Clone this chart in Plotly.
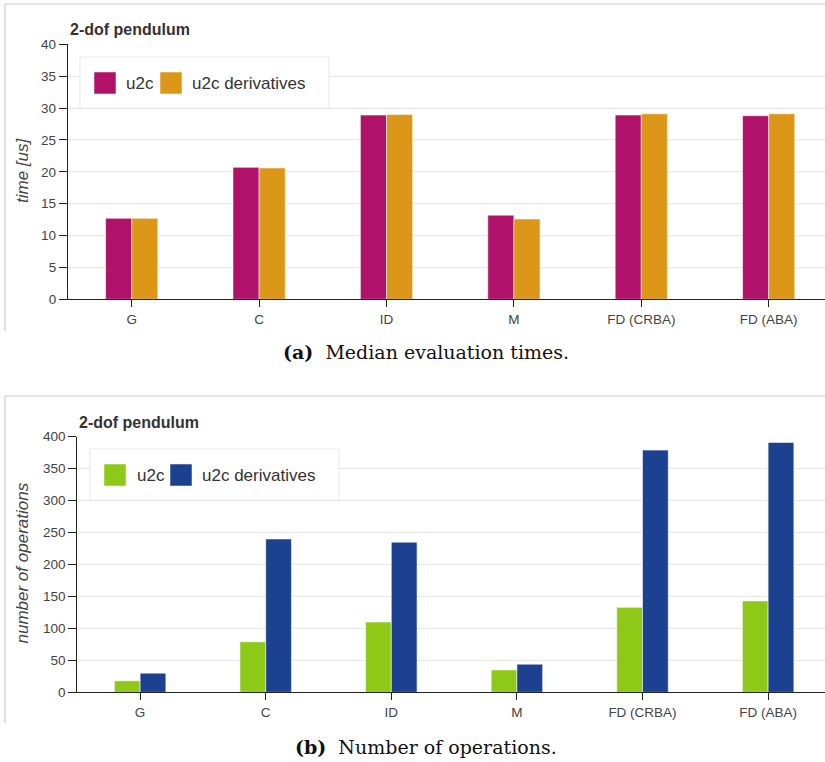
import plotly.graph_objects as go

# Benchmark results for the 2-dof pendulum
categories = ["G", "C", "ID", "M", "FD (CRBA)", "FD (ABA)"]
series_names = ["u2c", "u2c derivatives"]

times_u2c = [12.7, 20.7, 28.9, 13.2, 28.9, 28.8]
times_deriv = [12.7, 20.6, 29.0, 12.6, 29.1, 29.1]

ops_u2c = [18, 79, 110, 35, 133, 143]
ops_deriv = [30, 240, 235, 44, 379, 391]

time_ticks = [0, 5, 10, 15, 20, 25, 30, 35, 40]
ops_ticks = [0, 50, 100, 150, 200, 250, 300, 350, 400]

W, H = 825, 762
C_MAG, C_ORA = "#B01269", "#DC9718"
C_GRN, C_BLU = "#8DC916", "#1D4191"
TXT = "#444444"
SANS = "Liberation Sans, Arial, sans-serif"
SERIF = "DejaVu Serif, serif"


def xp(px):
    return px / W


def yp(py):
    return 1 - py / H


fig = go.Figure()
edge = dict(color="rgba(255,255,255,0.55)", width=1)
fig.add_bar(x=categories, y=times_u2c, name=series_names[0], marker=dict(color=C_MAG, line=edge),
            xaxis="x", yaxis="y")
fig.add_bar(x=categories, y=times_deriv, name=series_names[1], marker=dict(color=C_ORA, line=edge),
            xaxis="x", yaxis="y")
fig.add_bar(x=categories, y=ops_u2c, name=series_names[0], marker=dict(color=C_GRN, line=edge),
            xaxis="x2", yaxis="y2")
fig.add_bar(x=categories, y=ops_deriv, name=series_names[1], marker=dict(color=C_BLU, line=edge),
            xaxis="x2", yaxis="y2")

xcommon = dict(type="category", showline=True, linecolor="#222222", linewidth=1.3,
               ticks="outside", ticklen=7, tickcolor="#222222", tickwidth=1.3,
               showgrid=False, tickfont=dict(family=SANS, size=13.5, color=TXT),
               fixedrange=True, automargin=False)
ycommon = dict(showline=True, linecolor="#222222", linewidth=1.3,
               ticks="outside", ticklen=8, tickcolor="#222222", tickwidth=1.3,
               showgrid=True, gridcolor="#e6e6e6", gridwidth=1.2, zeroline=False,
               tickfont=dict(family=SANS, size=13.5, color=TXT), fixedrange=True,
               automargin=False)

# top panel: median evaluation times
top_left, top_y0, top_y1 = 68, 299.3, 44.3
# bottom panel: number of operations
bot_left, bot_y0, bot_y1 = 77.3, 692.3, 436.7

fig.update_layout(
    width=W, height=H,
    margin=dict(l=0, r=0, t=0, b=0, pad=0, autoexpand=False),
    paper_bgcolor="white", plot_bgcolor="white",
    showlegend=False,
    barmode="group", bargap=0.59, bargroupgap=0,
    xaxis=dict(xcommon, domain=[xp(top_left), 1], anchor="y", range=[-0.5, 5.442]),
    yaxis=dict(ycommon, domain=[yp(top_y0), yp(top_y1)], anchor="x", range=[0, 40],
               tickvals=time_ticks),
    xaxis2=dict(xcommon, domain=[xp(bot_left), 1], anchor="y2", range=[-0.5, 5.453]),
    yaxis2=dict(ycommon, domain=[yp(bot_y0), yp(bot_y1)], anchor="x2", range=[0, 400],
                tickvals=ops_ticks),
)

shapes = []
annotations = []

# panel frames (left and top edges)
for (xl, ytop, ybot) in [(5, 4, 331), (5, 396, 723)]:
    shapes.append(dict(type="path", xref="paper", yref="paper",
                       path=f"M {xp(xl)},{yp(ybot)} L {xp(xl)},{yp(ytop)} L {xp(W + 5)},{yp(ytop)}",
                       line=dict(color="#cccccc", width=1.2)))

# panel titles
for (xl, yc) in [(68, 29), (77, 422)]:
    annotations.append(dict(text="<b>2-dof pendulum</b>", xref="paper", yref="paper",
                            x=xp(xl), y=yp(yc), xanchor="left", yanchor="middle",
                            showarrow=False, font=dict(family=SANS, size=16, color="#333333")))

# y axis titles
for (txt, yc) in [("time [us]", 170), ("number of operations", 563.5)]:
    annotations.append(dict(text=f"<i>{txt}</i>", xref="paper", yref="paper",
                            x=xp(22), y=yp(yc), xanchor="center", yanchor="middle",
                            textangle=-90, showarrow=False,
                            font=dict(family=SANS, size=17, color=TXT)))

# legends
legend_specs = [
    (80, 57, 329, 108, [(94, C_MAG, 124), (160, C_ORA, 190)], 83),
    (90, 449, 339, 500, [(104, C_GRN, 135), (170, C_BLU, 200)], 475),
]
for (x0, y0, x1, y1, items, yc) in legend_specs:
    shapes.append(dict(type="rect", xref="paper", yref="paper",
                       x0=xp(x0), x1=xp(x1), y0=yp(y1), y1=yp(y0),
                       fillcolor="white", line=dict(color="#ececec", width=1.2), layer="above"))
    for (sx, col, tx), name in zip(items, series_names):
        shapes.append(dict(type="rect", xref="paper", yref="paper",
                           x0=xp(sx), x1=xp(sx + 22), y0=yp(yc + 11), y1=yp(yc - 11),
                           fillcolor=col, line=dict(color="rgba(255,255,255,0.5)", width=1),
                           layer="above"))
        annotations.append(dict(text=name, xref="paper", yref="paper",
                                x=xp(tx), y=yp(yc), xanchor="left", yanchor="middle",
                                showarrow=False, font=dict(family=SANS, size=17, color="#333333")))

# captions
for (lab, txt, yc) in [("(a)", "Median evaluation times.", 352),
                       ("(b)", "Number of operations.", 747)]:
    annotations.append(dict(text=f"<b>{lab}</b>  {txt}", xref="paper", yref="paper",
                            x=xp(425.5), y=yp(yc), xanchor="center", yanchor="middle",
                            showarrow=False, font=dict(family=SERIF, size=19, color="#111111")))

fig.update_layout(shapes=shapes, annotations=annotations)
fig.write_html("out.html")
